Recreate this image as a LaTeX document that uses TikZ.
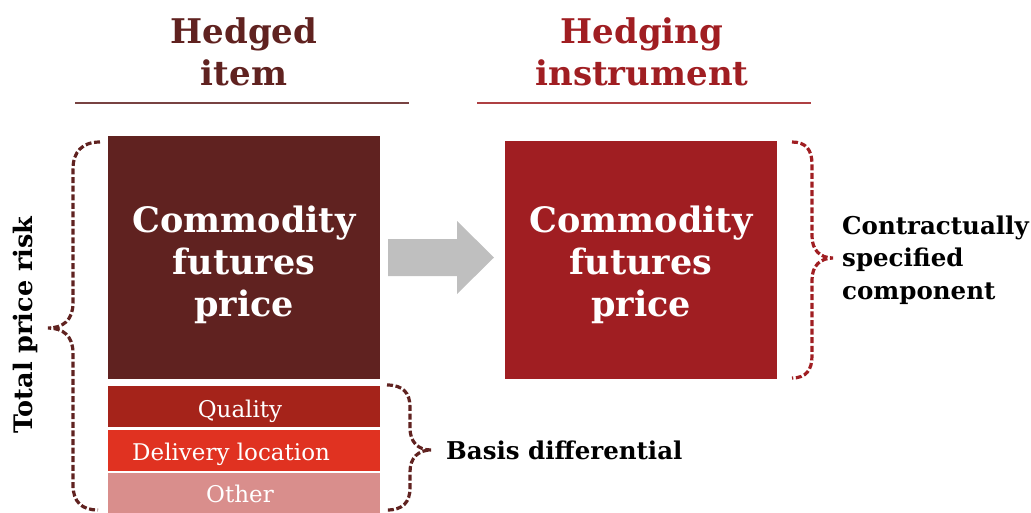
\documentclass[tikz,border=0pt]{standalone}
\usepackage{fontspec}
\setmainfont{DejaVu Serif}
\definecolor{darkmaroon}{HTML}{602220}
\definecolor{instrred}{HTML}{A01E22}
\definecolor{qualcol}{HTML}{A5231A}
\definecolor{delivcol}{HTML}{E03221}
\definecolor{othercol}{HTML}{D98E8C}
\definecolor{arrowgray}{HTML}{BFBFBF}
\begin{document}
\begin{tikzpicture}[x=1pt,y=-1pt,
  blockbox/.style={draw=none, inner sep=0pt, anchor=north west},
  bigtxt/.style={font=\fontsize{35}{42}\selectfont\bfseries, align=center, text=white},
  smalltxt/.style={font=\fontsize{23}{26}\selectfont, text=white, inner sep=0pt},
  titletxt/.style={font=\fontsize{34}{42}\selectfont\bfseries, align=center},
  sidetxt/.style={font=\fontsize{24.5}{32.5}\selectfont\bfseries, text=black},
  bracestroke/.style={line width=3.2pt, dash pattern=on 6pt off 2.6pt},
  underline/.style={line width=2pt}
]
\useasboundingbox (0,0) rectangle (1031,512);

% titles
\node[titletxt, text=darkmaroon] (t1) at (244,52) {Hedged\\item};
\node[titletxt, text=instrred] (t2) at (642,52) {Hedging\\instrument};
\coordinate (u1a) at (75,103); \coordinate (u1b) at (409,103);
\coordinate (u2a) at (477,103); \coordinate (u2b) at (811,103);
\draw[underline, darkmaroon!85] (u1a) -- (u1b);
\draw[underline, instrred!85] (u2a) -- (u2b);

% hedged item boxes
\node[blockbox, fill=darkmaroon, minimum width=272pt, minimum height=243pt] (main) at (108,136) {};
\node[bigtxt] (maintxt) at (244,265) {Commodity\\futures\\price};
\node[blockbox, fill=qualcol, minimum width=272pt, minimum height=41pt] (qual) at (108,386) {};
\node[smalltxt, anchor=base] (qualtxt) at (240,417) {Quality};
\node[blockbox, fill=delivcol, minimum width=272pt, minimum height=41pt] (deliv) at (108,430) {};
\node[smalltxt, anchor=base west] (delivtxt) at (132,460) {Delivery location};
\node[blockbox, fill=othercol, minimum width=272pt, minimum height=40pt] (other) at (108,473) {};
\node[smalltxt, anchor=base] (othertxt) at (240,502) {Other};

% hedging instrument box
\node[blockbox, fill=instrred, minimum width=272pt, minimum height=238pt] (instr) at (505,141) {};
\node[bigtxt] (instrtxt) at (641,265) {Commodity\\futures\\price};

% big arrow
\fill[arrowgray] (388,239) -- (457,239) -- (457,221) -- (494,257.5) -- (457,294) -- (457,276) -- (388,276) -- cycle;

% braces
\draw[bracestroke, darkmaroon] (100,142) .. controls (82,142) and (73,152) .. (73,169) -- (73,303)
  .. controls (73,320) and (63,328) .. (48,328) .. controls (63,328) and (73,336) .. (73,353) -- (73,485)
  .. controls (73,502) and (82,510) .. (98,510);
\draw[bracestroke, darkmaroon] (387,385) .. controls (403,385) and (410,393) .. (410,407) -- (410,428)
  .. controls (410,442) and (418,450) .. (431,450) .. controls (418,450) and (410,458) .. (410,472) -- (410,488)
  .. controls (410,502) and (403,510) .. (387,510);
\draw[bracestroke, instrred] (792,142) .. controls (806,142) and (812,150) .. (812,164) -- (812,236)
  .. controls (812,250) and (820,258) .. (833,258) .. controls (820,258) and (812,266) .. (812,280) -- (812,356)
  .. controls (812,370) and (806,378) .. (792,378);

% side labels
\node[sidetxt, rotate=90, font=\fontsize{25.5}{30}\selectfont\bfseries] (tpr) at (25,325) {Total price risk};
\node[sidetxt, anchor=base west, inner sep=0pt] (basis) at (446,459) {Basis differential};
\node[sidetxt, anchor=west, align=left, inner sep=0pt] (contr) at (842,260) {Contractually\\specified\\component};
\end{tikzpicture}
\end{document}
